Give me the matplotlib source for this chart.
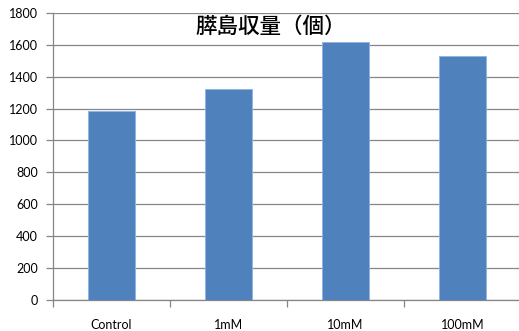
import numpy as np
import matplotlib.pyplot as plt

categories = ["Control", "1mM", "10mM", "100mM"]
islet_yield = [1183, 1320, 1617, 1532]
y_ticks = [0, 200, 400, 600, 800, 1000, 1200, 1400, 1600, 1800]
title = "膵島収量（個）"

plt.rcParams['font.family'] = ['Lato', 'DejaVu Sans']

fig = plt.figure(figsize=(5.19, 3.31), dpi=100)
ax = fig.add_axes([0.102, 0.094, 0.902, 0.867])

x = np.arange(len(categories))
ax.bar(x, islet_yield, width=0.4, color="#4F81BD", edgecolor="#8EB4E3",
       linewidth=0.6, zorder=3)

grid_color = "#868686"
ax.set_ylim(0, 1800)
ax.set_yticks(y_ticks)
ax.set_yticklabels([str(v) for v in y_ticks], fontsize=9)
ax.yaxis.grid(True, color=grid_color, linewidth=0.9, zorder=0)

ax.set_xlim(-0.5, 3.5)
ax.set_xticks(x)
ax.set_xticklabels(categories, fontsize=9)
ax.set_xticks(np.arange(-0.5, 4.0, 1.0), minor=True)
ax.tick_params(axis='x', which='major', length=0, pad=14)
ax.tick_params(axis='x', which='minor', length=5, color=grid_color, width=0.9)
ax.tick_params(axis='y', length=5, color=grid_color, width=0.9, pad=6)

for side in ["top", "right"]:
    ax.spines[side].set_visible(False)
for side in ["left", "bottom"]:
    ax.spines[side].set_color(grid_color)
    ax.spines[side].set_linewidth(0.9)

fig.text(0.522, 1 - 27 / 331, title, ha="center", va="center", fontsize=15.5,
         fontweight="medium", family=['Noto Sans CJK JP', 'DejaVu Sans'])

fig.savefig("out.png", dpi=100)
